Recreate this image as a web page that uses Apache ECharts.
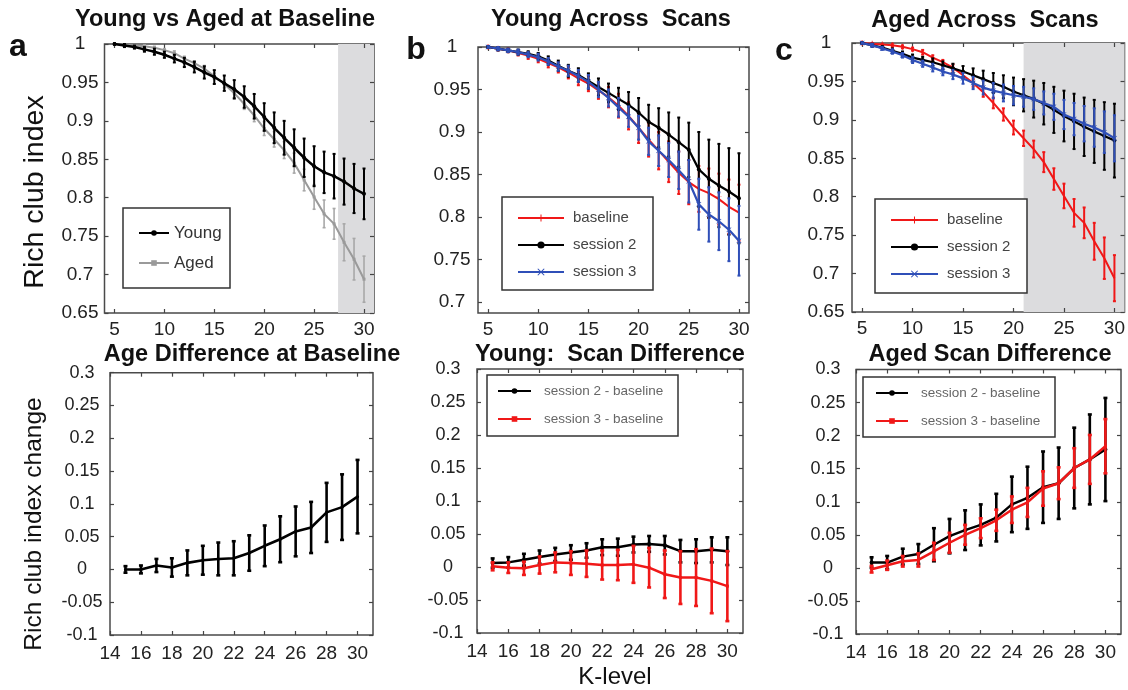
<!DOCTYPE html>
<html><head><meta charset="utf-8">
<script src="https://cdn.jsdelivr.net/npm/echarts@6/dist/echarts.min.js"></script>
<style>html,body{margin:0;padding:0;background:#fff}#c{width:1128px;height:690px}</style>
</head><body><div id="c"></div>
<script>
// ---------------- DATA ----------------
const kTop = [5,6,7,8,9,10,11,12,13,14,15,16,17,18,19,20,21,22,23,24,25,26,27,28,29,30];
const kBot = [15,16,17,18,19,20,21,22,23,24,25,26,27,28,29,30];

const topXTicks = [5,10,15,20,25,30];
const botXTicks = [14,16,18,20,22,24,26,28,30];
const topYTicks65 = [0.65,0.7,0.75,0.8,0.85,0.9,0.95,1];
const topYTicks70 = [0.7,0.75,0.8,0.85,0.9,0.95,1];
const botYTicks = [-0.1,-0.05,0,0.05,0.1,0.15,0.2,0.25,0.3];

// panel a / b(baseline): young at baseline
const youngBase    = [1.000,0.998,0.996,0.993,0.990,0.986,0.981,0.976,0.970,0.963,0.957,0.949,0.941,0.931,0.919,0.905,0.891,0.878,0.865,0.852,0.841,0.833,0.828,0.821,0.812,0.805];
const youngBaseErr = [0.001,0.002,0.002,0.003,0.004,0.004,0.005,0.006,0.007,0.008,0.009,0.010,0.012,0.014,0.016,0.018,0.020,0.022,0.024,0.025,0.026,0.027,0.029,0.030,0.032,0.033];
// panel a / c(baseline): aged at baseline
const agedBase     = [1.000,0.999,0.998,0.997,0.995,0.992,0.988,0.981,0.975,0.968,0.958,0.948,0.936,0.922,0.907,0.890,0.876,0.862,0.845,0.823,0.801,0.779,0.766,0.742,0.720,0.694];
const agedBaseErr  = [0.001,0.001,0.001,0.002,0.002,0.002,0.003,0.003,0.003,0.004,0.004,0.005,0.006,0.007,0.008,0.009,0.010,0.011,0.013,0.014,0.016,0.018,0.020,0.024,0.027,0.030];
// panel b: young sessions
const youngS2      = [1.000,0.998,0.996,0.994,0.992,0.989,0.984,0.978,0.972,0.967,0.960,0.953,0.946,0.939,0.932,0.923,0.912,0.905,0.897,0.888,0.879,0.856,0.845,0.837,0.830,0.822];
const youngS2Err   = [0.001,0.002,0.002,0.003,0.003,0.004,0.005,0.006,0.007,0.008,0.009,0.010,0.011,0.013,0.015,0.017,0.020,0.023,0.026,0.029,0.032,0.044,0.046,0.049,0.051,0.053];
const youngS3      = [1.000,0.998,0.996,0.994,0.991,0.988,0.983,0.977,0.972,0.966,0.959,0.950,0.940,0.929,0.918,0.905,0.889,0.878,0.867,0.855,0.842,0.815,0.803,0.795,0.785,0.772];
const youngS3Err   = [0.001,0.002,0.002,0.003,0.003,0.004,0.004,0.005,0.006,0.007,0.008,0.009,0.010,0.011,0.012,0.014,0.016,0.018,0.020,0.022,0.025,0.030,0.032,0.034,0.037,0.041];
// panel c: aged sessions
const agedS2       = [1.000,0.997,0.994,0.990,0.986,0.981,0.978,0.975,0.971,0.967,0.963,0.958,0.953,0.948,0.943,0.937,0.932,0.927,0.921,0.913,0.905,0.898,0.891,0.885,0.879,0.873];
const agedS2Err    = [0.001,0.002,0.002,0.003,0.003,0.004,0.004,0.005,0.005,0.006,0.007,0.009,0.011,0.013,0.015,0.018,0.021,0.024,0.027,0.030,0.033,0.036,0.038,0.041,0.044,0.048];
const agedS3       = [1.000,0.997,0.993,0.989,0.984,0.978,0.973,0.968,0.963,0.959,0.954,0.948,0.942,0.938,0.935,0.932,0.930,0.927,0.922,0.917,0.907,0.901,0.895,0.890,0.884,0.876];
const agedS3Err    = [0.001,0.002,0.002,0.003,0.003,0.004,0.004,0.005,0.005,0.006,0.007,0.008,0.009,0.010,0.011,0.012,0.013,0.014,0.015,0.017,0.019,0.021,0.023,0.025,0.027,0.030];
// bottom panels
const ageDiff      = [0.000,0.000,0.006,0.003,0.010,0.014,0.016,0.017,0.025,0.036,0.046,0.058,0.064,0.087,0.095,0.111];
const ageDiffErr   = [0.005,0.006,0.010,0.014,0.019,0.022,0.025,0.026,0.027,0.031,0.035,0.038,0.039,0.045,0.050,0.056];
const youngDiffS2    = [0.006,0.007,0.011,0.015,0.019,0.022,0.025,0.030,0.030,0.034,0.035,0.033,0.024,0.024,0.026,0.024];
const youngDiffS2Err = [0.007,0.008,0.009,0.010,0.010,0.011,0.011,0.012,0.013,0.012,0.012,0.014,0.017,0.018,0.019,0.021];
const youngDiffS3    = [0.001,-0.001,-0.002,0.003,0.007,0.006,0.005,0.003,0.003,0.004,-0.001,-0.011,-0.016,-0.016,-0.021,-0.029];
const youngDiffS3Err = [0.006,0.008,0.010,0.013,0.015,0.018,0.020,0.022,0.023,0.028,0.030,0.036,0.040,0.043,0.049,0.053];
const agedDiffS2     = [0.008,0.008,0.017,0.021,0.035,0.048,0.057,0.065,0.076,0.096,0.106,0.122,0.128,0.151,0.164,0.179];
const agedDiffS2Err  = [0.008,0.010,0.012,0.015,0.025,0.026,0.030,0.031,0.036,0.042,0.047,0.054,0.054,0.061,0.068,0.078];
const agedDiffS3     = [-0.002,0.004,0.010,0.012,0.025,0.038,0.050,0.060,0.072,0.088,0.099,0.120,0.128,0.151,0.164,0.184];
const agedDiffS3Err  = [0.005,0.007,0.008,0.010,0.013,0.015,0.015,0.015,0.016,0.020,0.022,0.026,0.024,0.030,0.037,0.041];

// shaded K ranges
const shadeA = [27.4, 31];
const shadeC = [21, 31];

// ---------------- STYLE / LAYOUT ----------------
const FONT = '"Liberation Sans", Arial, Helvetica, sans-serif';
const RED = '#f01818', BLUE = '#2f4fb8', GRAY = '#9a9a9a', BLACK = '#000';
const SYM_BAR = 'path://M0,0 L10,0 L10,0.01 L0,0.01 Z M4.3,0 L5.7,0 L5.7,10 L4.3,10 Z';
const SYM_X = 'path://M1,0 L5,4 L9,0 L10,1 L6,5 L10,9 L9,10 L5,6 L1,10 L0,9 L4,5 L0,1 Z';

const grids = [
  {left:104.5, top:44,    width:269.5, height:269},
  {left:478,   top:47,    width:271,   height:266},
  {left:852,   top:43,    width:273,   height:269},
  {left:110,   top:372.7, width:263,   height:262.3},
  {left:477,   top:369,   width:266,   height:264},
  {left:856,   top:369.5, width:265,   height:264.5}
];
const fmt = v => String(parseFloat((+v).toFixed(2)));

function xAxes(gi, min, max, ticks, fs, margin) {
  const tick = {show:true, inside:true, length:4, customValues:ticks, lineStyle:{color:'#444', width:1.2}};
  return [
    {type:'value', gridIndex:gi, min, max, position:'bottom', axisLine:{show:false, onZero:false}, splitLine:{show:false},
     axisTick:tick, axisLabel:{show:true, customValues:ticks, margin, color:'#222', fontSize:fs, fontFamily:FONT, formatter:fmt}},
    {type:'value', gridIndex:gi, min, max, position:'top', axisLine:{show:false, onZero:false}, splitLine:{show:false},
     axisTick:tick, axisLabel:{show:false}}
  ];
}
function yAxes(gi, min, max, ticks, fs, margin) {
  const tick = {show:true, inside:true, length:4, customValues:ticks, lineStyle:{color:'#444', width:1.2}};
  return [
    {type:'value', gridIndex:gi, min, max, position:'left', axisLine:{show:false, onZero:false}, splitLine:{show:false},
     axisTick:tick, axisLabel:{show:true, customValues:ticks, margin, align:'center', color:'#222', fontSize:fs, fontFamily:FONT, formatter:fmt}},
    {type:'value', gridIndex:gi, min, max, position:'right', axisLine:{show:false, onZero:false}, splitLine:{show:false},
     axisTick:tick, axisLabel:{show:false}}
  ];
}

const xAxis = [].concat(
  xAxes(0, 4, 31, topXTicks, 19, 7), xAxes(1, 4, 31, topXTicks, 19, 7), xAxes(2, 4, 31, topXTicks, 19, 7),
  xAxes(3, 14, 31, botXTicks, 19, 9), xAxes(4, 14, 31, botXTicks, 19, 9), xAxes(5, 14, 31, botXTicks, 19, 9)
);
const yAxis = [].concat(
  yAxes(0, 0.65, 1, topYTicks65, 19, 24.5), yAxes(1, 0.687, 1, topYTicks70, 19, 26), yAxes(2, 0.65, 1, topYTicks65, 19, 26),
  yAxes(3, -0.1, 0.3, botYTicks, 18, 28), yAxes(4, -0.1, 0.3, botYTicks, 18, 29), yAxes(5, -0.1, 0.3, botYTicks, 18, 28)
);

function lineS(gi, name, xs, ys, color, width, symbol, symbolSize, z) {
  return {type:'line', name, xAxisIndex:2*gi, yAxisIndex:2*gi, z,
    data: xs.map((x,i)=>[x, ys[i]]), symbol, symbolSize, showSymbol:true,
    lineStyle:{color, width}, itemStyle:{color}, emphasis:{disabled:true}, silent:true};
}
function errS(gi, xs, ys, es, color, width, cap, z) {
  return {type:'custom', xAxisIndex:2*gi, yAxisIndex:2*gi, z, silent:true,
    data: xs.map((x,i)=>[x, ys[i]-es[i], ys[i]+es[i]]),
    encode:{x:0, y:[1,2]},
    renderItem:(params, api) => {
      const x = api.value(0);
      const p1 = api.coord([x, api.value(2)]);
      const p2 = api.coord([x, api.value(1)]);
      const st = {stroke:color, lineWidth:width};
      return {type:'group', children:[
        {type:'line', shape:{x1:p1[0], y1:p1[1], x2:p2[0], y2:p2[1]}, style:st},
        {type:'line', shape:{x1:p1[0]-cap, y1:p1[1], x2:p1[0]+cap, y2:p1[1]}, style:st},
        {type:'line', shape:{x1:p2[0]-cap, y1:p2[1], x2:p2[0]+cap, y2:p2[1]}, style:st}
      ]};
    }};
}
function shadeS(gi, range) {
  return {type:'custom', xAxisIndex:2*gi, yAxisIndex:2*gi, z:0, silent:true,
    data:[[range[0], range[1]]], encode:{x:[0,1]},
    renderItem:(params, api) => {
      const cs = params.coordSys;
      const xa = api.coord([api.value(0), 0.8])[0];
      const xb = api.coord([api.value(1), 0.8])[0];
      return {type:'rect', shape:{x:xa, y:cs.y, width:xb-xa, height:cs.height}, style:{fill:'#dcdcde'}};
    }};
}

const series = [
  // panel a
  shadeS(0, shadeA),
  errS(0, kTop, agedBase, agedBaseErr, '#a8a8a8', 1.6, 1.5, 2),
  lineS(0, 'Aged', kTop, agedBase, GRAY, 2, 'rect', 3, 3),
  errS(0, kTop, youngBase, youngBaseErr, BLACK, 2, 1.5, 4),
  lineS(0, 'Young', kTop, youngBase, BLACK, 2.5, 'circle', 4, 5),
  // panel b
  errS(1, kTop, youngBase, youngBaseErr, RED, 2, 1.5, 2),
  lineS(1, 'baseline', kTop, youngBase, RED, 2, SYM_BAR, 6, 3),
  errS(1, kTop, youngS2, youngS2Err, BLACK, 2, 1.5, 4),
  lineS(1, 'session 2', kTop, youngS2, BLACK, 2.2, 'circle', 4, 5),
  errS(1, kTop, youngS3, youngS3Err, BLUE, 2, 1.5, 6),
  lineS(1, 'session 3', kTop, youngS3, BLUE, 2.2, SYM_X, 5, 7),
  // panel c
  shadeS(2, shadeC),
  errS(2, kTop, agedBase, agedBaseErr, RED, 2, 1.5, 2),
  lineS(2, 'baseline', kTop, agedBase, RED, 2, SYM_BAR, 6, 3),
  errS(2, kTop, agedS2, agedS2Err, BLACK, 2, 1.5, 4),
  lineS(2, 'session 2', kTop, agedS2, BLACK, 2.2, 'circle', 4, 5),
  errS(2, kTop, agedS3, agedS3Err, BLUE, 2, 1.5, 6),
  lineS(2, 'session 3', kTop, agedS3, BLUE, 2.2, SYM_X, 5, 7),
  // bottom a
  errS(3, kBot, ageDiff, ageDiffErr, BLACK, 2.6, 2, 2),
  lineS(3, 'age diff', kBot, ageDiff, BLACK, 2.6, 'circle', 3, 3),
  // bottom b
  errS(4, kBot, youngDiffS2, youngDiffS2Err, BLACK, 2.6, 2, 2),
  lineS(4, 'session 2 - baseline', kBot, youngDiffS2, BLACK, 2.5, 'circle', 4, 3),
  errS(4, kBot, youngDiffS3, youngDiffS3Err, RED, 2.6, 2, 4),
  lineS(4, 'session 3 - baseline', kBot, youngDiffS3, RED, 2.5, 'rect', 3, 5),
  // bottom c
  errS(5, kBot, agedDiffS2, agedDiffS2Err, BLACK, 2.6, 2, 2),
  lineS(5, 'session 2 - baseline', kBot, agedDiffS2, BLACK, 2.5, 'circle', 4, 3),
  errS(5, kBot, agedDiffS3, agedDiffS3Err, RED, 2.6, 2, 4),
  lineS(5, 'session 3 - baseline', kBot, agedDiffS3, RED, 2.5, 'rect', 3, 5)
];

function legendBox(names, left, top, pad, itemW, itemH, gap, fs, lh, tw, color) {
  return {show:true, data:names, orient:'vertical', left, top, padding:pad, itemWidth:itemW, itemHeight:itemH,
    itemGap:gap, selectedMode:false, backgroundColor:'#fff', borderColor:'#333', borderWidth:1.5, borderRadius:0,
    textStyle:{fontFamily:FONT, fontSize:fs, lineHeight:lh, color, width:tw}, z:10};
}
const legend = [
  legendBox(['Young','Aged'], 123, 208, [15,4,15,15], 30, 7, 10, 17, 20, 52, '#333'),
  legendBox(['baseline','session 2','session 3'], 502, 197, [12,5,9,15], 46, 9, 9, 15, 18, 75, '#444'),
  legendBox(['baseline','session 2','session 3'], 875, 199, [12,5,10,15], 47, 9, 9, 15, 18, 75, '#444'),
  legendBox(['session 2 - baseline','session 3 - baseline'], 487, 375, [8,4,9,10], 33, 7, 12, 13.5, 16, 130, '#666'),
  legendBox(['session 2 - baseline','session 3 - baseline'], 863, 377, [8,4,8,12], 32, 7, 12, 13.5, 16, 130, '#666')
];
legend[1].textStyle.padding = [0,0,0,4];
legend[2].textStyle.padding = [0,0,0,4];
legend[3].textStyle.padding = [0,0,0,8];
legend[4].textStyle.padding = [0,0,0,8];

function txt(text, x, y, size, bold, rot) {
  return {type:'text', x, y, rotation: rot || 0, z:20, silent:true,
    style:{text, fill:'#111', font:(bold ? 'bold ' : '') + size + 'px ' + FONT, textAlign:'center', textVerticalAlign:'middle'}};
}
const graphic = [
  txt('Young vs Aged at Baseline', 225, 20, 23.5, true),
  txt('Young Across  Scans', 611, 20, 23.5, true),
  txt('Aged Across  Scans', 985, 21, 23.5, true),
  txt('Age Difference at Baseline', 252, 355, 23.5, true),
  txt('Young:  Scan Difference', 610, 355, 23.5, true),
  txt('Aged Scan Difference', 990, 355, 23.5, true),
  txt('a', 18, 47, 32, true),
  txt('b', 416, 50, 32, true),
  txt('c', 784, 51, 32, true),
  txt('Rich club index', 35, 192, 28.5, false, Math.PI/2),
  txt('Rich club index change', 34, 524, 24.5, false, Math.PI/2),
  txt('K-level', 615, 677, 24, false)
];

const chart = echarts.init(document.getElementById('c'), null, {renderer:'canvas'});
chart.setOption({
  animation:false,
  backgroundColor:'#fff',
  grid: grids.map(g => Object.assign({show:true, borderColor:'#4a4a4a', borderWidth:1.5, containLabel:false}, g)),
  xAxis, yAxis, series, legend, graphic
});
</script></body></html>
